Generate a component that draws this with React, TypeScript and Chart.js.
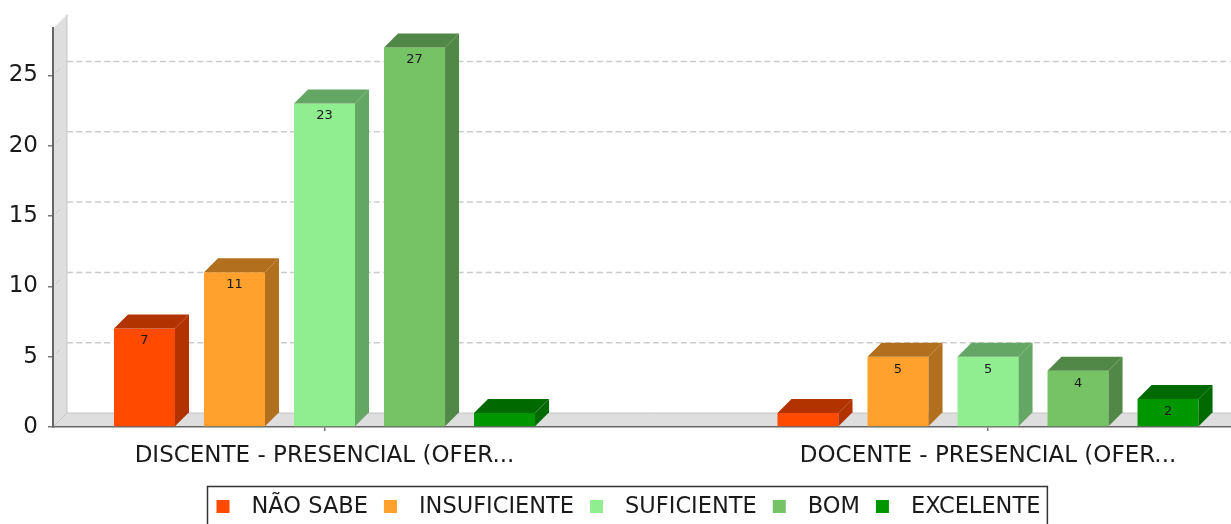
import React, { useEffect, useRef } from 'react';
import { Chart, registerables } from 'chart.js';

Chart.register(...registerables);

// ---- data ----
const categories = ['DISCENTE - PRESENCIAL (OFER...', 'DOCENTE - PRESENCIAL (OFER...'];
const seriesNames = ['NÃO SABE', 'INSUFICIENTE', 'SUFICIENTE', 'BOM', 'EXCELENTE'];
const naoSabe = [7, 1];
const insuficiente = [11, 5];
const suficiente = [23, 5];
const bom = [27, 4];
const excelente = [1, 2];
const yTickValues = [0, 5, 10, 15, 20, 25];
const Y_MAX = 28.35;

// ---- style ----
const seriesColors = ['#FF4A00', '#FFA12C', '#90EE90', '#76C366', '#009600'];
const FONT = "'DejaVu Sans', sans-serif";
const DEPTH = 14;
const X_MIN = -0.4092;
const X_MAX = 1.3662;

function darker(hex: string): string {
  const h = hex.replace('#', '');
  const r = Math.floor(parseInt(h.slice(0, 2), 16) * 0.7);
  const g = Math.floor(parseInt(h.slice(2, 4), 16) * 0.7);
  const b = Math.floor(parseInt(h.slice(4, 6), 16) * 0.7);
  return `rgb(${r},${g},${b})`;
}

const threeD = {
  id: 'threeD',
  beforeDraw(chart: any) {
    const { ctx, chartArea } = chart;
    const { left, right, top, bottom } = chartArea;
    const d = DEPTH;
    const y = chart.scales.y;
    ctx.save();
    ctx.fillStyle = '#dedede';
    ctx.beginPath();
    ctx.moveTo(left, bottom);
    ctx.lineTo(left, top);
    ctx.lineTo(left + d, top - d);
    ctx.lineTo(left + d, bottom - d);
    ctx.closePath();
    ctx.fill();
    ctx.beginPath();
    ctx.moveTo(left, bottom);
    ctx.lineTo(left + d, bottom - d);
    ctx.lineTo(right + d, bottom - d);
    ctx.lineTo(right, bottom);
    ctx.closePath();
    ctx.fill();
    ctx.strokeStyle = '#c6c6c6';
    ctx.lineWidth = 1;
    ctx.beginPath();
    ctx.moveTo(left, bottom);
    ctx.lineTo(left + d, bottom - d);
    ctx.lineTo(left + d, top - d);
    ctx.moveTo(left + d, bottom - d);
    ctx.lineTo(right + d, bottom - d);
    ctx.stroke();
    // grid lines on the back wall
    ctx.setLineDash([6, 3.3]);
    ctx.strokeStyle = '#cbcbcb';
    ctx.lineWidth = 1.5;
    y.ticks.forEach((t: any) => {
      if (t.value === 0) return;
      const py = y.getPixelForValue(t.value);
      ctx.beginPath();
      ctx.moveTo(left + d, py - d);
      ctx.lineTo(right + d, py - d);
      ctx.stroke();
    });
    ctx.setLineDash([]);
    ctx.strokeStyle = '#cacaca';
    ctx.lineWidth = 1;
    y.ticks.forEach((t: any) => {
      if (t.value === 0) return;
      const py = y.getPixelForValue(t.value);
      ctx.beginPath();
      ctx.moveTo(left + 3, py - 3);
      ctx.lineTo(left + 7, py - 7);
      ctx.stroke();
    });
    ctx.restore();
  },
  afterDatasetsDraw(chart: any) {
    const { ctx } = chart;
    const d = DEPTH;
    ctx.save();
    chart.data.datasets.forEach((ds: any, di: number) => {
      const meta = chart.getDatasetMeta(di);
      const shade = darker(ds.backgroundColor);
      meta.data.forEach((bar: any, i: number) => {
        const { x, y, base, width } = bar.getProps(['x', 'y', 'base', 'width'], true);
        const x0 = x - width / 2;
        const x1 = x + width / 2;
        ctx.fillStyle = shade;
        ctx.beginPath();
        ctx.moveTo(x0, y);
        ctx.lineTo(x0 + d, y - d);
        ctx.lineTo(x1 + d, y - d);
        ctx.lineTo(x1, y);
        ctx.closePath();
        ctx.fill();
        ctx.beginPath();
        ctx.moveTo(x1, y);
        ctx.lineTo(x1 + d, y - d);
        ctx.lineTo(x1 + d, base - d);
        ctx.lineTo(x1, base);
        ctx.closePath();
        ctx.fill();
        if (base - y >= 20) {
          ctx.fillStyle = '#1a1a1a';
          ctx.font = `13px ${FONT}`;
          ctx.textAlign = 'center';
          ctx.textBaseline = 'middle';
          ctx.fillText(String(ds.data[i].y), x, y + 12.5);
        }
      });
    });
    ctx.restore();
  },
  afterDraw(chart: any) {
    const { ctx } = chart;
    ctx.save();
    ctx.font = `22.5px ${FONT}`;
    const items = chart.data.datasets.map((ds: any) => ({
      label: ds.label,
      color: ds.backgroundColor,
      w: ctx.measureText(ds.label).width,
    }));
    const sq = 13, gapSq = 22, gapItem = 16, padL = 9, padR = 7;
    let total = padL + padR;
    items.forEach((it: any, i: number) => {
      total += sq + gapSq + it.w + (i < items.length - 1 ? gapItem : 0);
    });
    const cx = 626.5;
    const bx = Math.round(cx - total / 2) + 0.5;
    const by = 486.5;
    ctx.strokeStyle = '#333';
    ctx.lineWidth = 1.5;
    ctx.strokeRect(bx, by, total, 60);
    let x = bx + padL;
    ctx.textBaseline = 'middle';
    ctx.textAlign = 'left';
    items.forEach((it: any) => {
      ctx.fillStyle = it.color;
      ctx.fillRect(x, 500, sq, sq);
      ctx.fillStyle = '#1a1a1a';
      ctx.fillText(it.label, x + sq + gapSq, 507);
      x += sq + gapSq + it.w + gapItem;
    });
    ctx.restore();
  },
};

export default function App() {
  const ref = useRef<HTMLCanvasElement | null>(null);
  useEffect(() => {
    if (!ref.current) return;
    const seriesValues = [naoSabe, insuficiente, suficiente, bom, excelente];
    const chart = new Chart(ref.current, {
      type: 'bar',
      data: {
        datasets: seriesNames.map((name, si) => ({
          label: name,
          data: seriesValues[si].map((v, ci) => ({ x: ci, y: v })),
          backgroundColor: seriesColors[si],
          borderWidth: 0,
          categoryPercentage: 0.6783,
          barPercentage: 0.678,
        })),
      },
      options: {
        responsive: false,
        animation: false,
        events: [],
        layout: { padding: { top: 28.4, left: 0, right: 0, bottom: 0 } },
        plugins: { legend: { display: false }, tooltip: { enabled: false } },
        scales: {
          x: {
            type: 'linear',
            min: X_MIN,
            max: X_MAX,
            offset: false,
            bounds: 'data',
            afterBuildTicks: (scale: any) => {
              scale.ticks = categories.map((_, i) => ({ value: i }));
            },
            afterFit: (scale: any) => {
              scale.height = 97;
            },
            ticks: {
              callback: (v: any) => categories[v as number] ?? '',
              font: { family: FONT, size: 23, lineHeight: 1 },
              color: '#1a1a1a',
              padding: 14,
              maxRotation: 0,
              autoSkip: false,
              includeBounds: false,
            },
            grid: { offset: false, drawOnChartArea: false, drawTicks: true, tickLength: 4, color: '#777', lineWidth: 1.5 },
            border: { display: true, color: '#666', width: 1.5 },
          },
          y: {
            min: 0,
            max: Y_MAX,
            afterBuildTicks: (scale: any) => {
              scale.ticks = yTickValues.map((v) => ({ value: v }));
            },
            afterFit: (scale: any) => {
              scale.width = 53;
            },
            ticks: {
              font: { family: FONT, size: 23 },
              color: '#1a1a1a',
              padding: 10,
              includeBounds: false,
            },
            grid: { drawOnChartArea: false, drawTicks: true, tickLength: 5, color: '#777', lineWidth: 1.5 },
            border: { display: true, color: '#666', width: 2 },
          },
        },
      },
      plugins: [threeD],
    } as any);
    return () => chart.destroy();
  }, []);
  return (
    <div style={{ position: 'fixed', left: 0, top: 0, width: 1231, height: 524, background: '#fff' }}>
      <canvas ref={ref} width={1231} height={524} style={{ display: 'block' }} />
    </div>
  );
}
